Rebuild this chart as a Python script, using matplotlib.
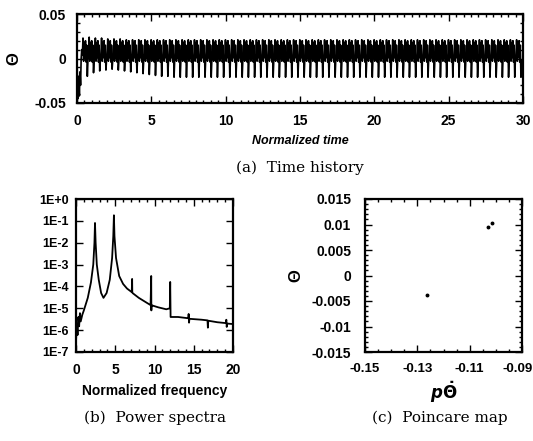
import matplotlib
matplotlib.use('Agg')
import matplotlib.pyplot as plt
from matplotlib.ticker import MultipleLocator, FixedLocator, FuncFormatter, LogLocator, NullFormatter
import numpy as np

# ---- データ ----
# (a) time history: start transient, then a repeated cycle at f ~ 2.4
transient_t = [0.0, 0.04, 0.08, 0.12, 0.16, 0.2, 0.24, 0.28, 0.32]
transient_theta = [0.0, -0.035, -0.045, -0.02, -0.042, -0.015, -0.03, 0.0, 0.01]
cycle_shape = [0.004, 0.021, -0.003, 0.018, 0.001, 0.020, -0.004, 0.015, -0.021, -0.002]
first_dips = [-0.020, -0.016, -0.014, -0.013, -0.012, -0.013, -0.014, -0.015,
              -0.016, -0.017, -0.018, -0.019, -0.020, -0.020]
first_peaks = [0.023, 0.024, 0.023, 0.023, 0.022, 0.022, 0.022, 0.021]
base_freq = 2.4
t_end = 30.0

# (b) power spectra
freq = [0.0, 0.1, 0.2, 0.3, 0.4, 0.5, 0.6, 0.8, 1.0, 1.5, 1.9, 2.2, 2.35, 2.42, 2.5,
        2.65, 2.9, 3.2, 3.5, 3.9, 4.3, 4.6, 4.75, 4.83, 4.9, 5.1, 5.5, 6.0, 6.5, 7.1,
        7.15, 7.17, 7.2, 8.0, 9.0, 9.5, 9.58, 9.6, 9.62, 9.7, 10.5, 11.5, 11.95, 12.0,
        12.05, 13.0, 14.3, 14.35, 14.4, 14.45, 16.0, 16.75, 16.8, 16.85, 18.0, 19.1,
        19.15, 19.2, 19.25, 20.0]
power = [3e-7, 2e-6, 6e-7, 4e-6, 1.5e-6, 6e-6, 2.5e-6, 5e-6, 8e-6, 3e-5, 1.5e-4,
         1e-3, 1e-2, 8e-2, 1e-2, 1e-3, 2e-4, 5e-5, 3e-5, 5e-5, 2e-4, 2e-3, 2e-2,
         1.8e-1, 2e-2, 2e-3, 3e-4, 1.3e-4, 8e-5, 5.5e-5, 2.2e-4, 5.5e-5, 5e-5, 3e-5,
         1.8e-5, 1.4e-5, 3e-4, 8e-6, 1.4e-5, 1.35e-5, 1.1e-5, 9e-6, 1e-5, 1.6e-4,
         4e-6, 4e-6, 3.5e-6, 5.5e-6, 2.2e-6, 3.3e-6, 3e-6, 2.8e-6, 1.3e-6, 2.7e-6,
         2.3e-6, 2.1e-6, 3e-6, 1.4e-6, 2e-6, 1.9e-6]

# (c) poincare map
poin_x = [-0.1015, -0.1030, -0.1262]
poin_y = [0.0102, 0.0095, -0.0038]
poin_xticks = [-0.15, -0.13, -0.11, -0.09]

plt.rcParams['font.family'] = ['Liberation Sans', 'DejaVu Sans']
plt.rcParams['font.weight'] = 'bold'
plt.rcParams['mathtext.fontset'] = 'custom'
plt.rcParams['mathtext.it'] = 'DejaVu Sans:italic:bold'
plt.rcParams['mathtext.rm'] = 'DejaVu Sans:bold'

tick_fs = 10


def style_axes(ax):
    """枠と目盛の設定"""
    for sp in ax.spines.values():
        sp.set_linewidth(1.6)
    ax.tick_params(which='both', direction='in', top=True, right=True,
                   labelsize=tick_fs, width=1.0)
    ax.tick_params(which='major', length=5)
    ax.tick_params(axis='x', which='major', pad=8)
    ax.tick_params(axis='y', which='major', pad=8)
    ax.tick_params(which='minor', length=2.5)


fig = plt.figure(figsize=(5.33, 4.41), dpi=100)
W, H = 533.0, 441.0


def px_axes(x0, y0, x1, y1):
    return fig.add_axes([x0 / W, 1 - y1 / H, (x1 - x0) / W, (y1 - y0) / H])


# ---- (a) Time history ----
ax1 = px_axes(77, 14, 523, 103)
n_cycles = int((t_end - transient_t[-1]) * base_freq)
dt = 1.0 / base_freq / len(cycle_shape)
t_vals = list(transient_t)
y_vals = list(transient_theta)
for k in range(n_cycles):
    shape = list(cycle_shape)
    if k < len(first_dips):
        shape[8] = first_dips[k]
    if k < len(first_peaks):
        shape[1] = first_peaks[k]
    for j, v in enumerate(shape):
        t_vals.append(transient_t[-1] + (k * len(cycle_shape) + j + 1) * dt)
        y_vals.append(v)
ax1.plot(t_vals, y_vals, color='black', linewidth=1.2)
ax1.set_xlim(0, 30)
ax1.set_ylim(-0.05, 0.05)
ax1.xaxis.set_major_locator(MultipleLocator(5))
ax1.xaxis.set_minor_locator(MultipleLocator(0.5))
ax1.yaxis.set_major_locator(FixedLocator([-0.05, 0, 0.05]))
ax1.yaxis.set_minor_locator(MultipleLocator(0.01))
ax1.yaxis.set_major_formatter(FuncFormatter(lambda v, p: '0' if abs(v) < 1e-9 else f'{v:.2f}'))
style_axes(ax1)
ax1.set_xlabel('Normalized time', fontsize=9, fontstyle='italic', fontweight='bold', labelpad=5)
ax1.set_ylabel('Θ', fontsize=12, fontweight='bold', rotation=90, labelpad=9)

# ---- (b) Power spectra ----
ax2 = px_axes(76, 199, 233, 352)
ax2.semilogy(freq, power, color='black', linewidth=1.3)
ax2.set_xlim(0, 20)
ax2.set_ylim(1e-7, 1)
ax2.xaxis.set_major_locator(MultipleLocator(5))
ax2.xaxis.set_minor_locator(MultipleLocator(1))
ax2.yaxis.set_major_locator(FixedLocator([10.0 ** e for e in range(-7, 1)]))
ax2.yaxis.set_minor_locator(LogLocator(base=10, subs=np.arange(2, 10)))
ax2.yaxis.set_minor_formatter(NullFormatter())
ax2.yaxis.set_major_formatter(FuncFormatter(
    lambda v, p: '1E+0' if v >= 0.99 else f'1E{int(round(np.log10(v)))}'))
style_axes(ax2)
ax2.tick_params(axis='y', which='major', labelsize=9, pad=5)
ax2.set_xlabel('Normalized frequency', fontsize=10, fontweight='bold', labelpad=5)

# ---- (c) Poincare map ----
ax3 = px_axes(365, 199, 522, 352)
ax3.plot(poin_x, poin_y, 'o', color='black', markersize=1.8)
ax3.set_xlim(-0.15, -0.09)
ax3.set_ylim(-0.015, 0.015)
ax3.xaxis.set_major_locator(FixedLocator(poin_xticks))
ax3.xaxis.set_minor_locator(MultipleLocator(0.005))
ax3.yaxis.set_major_locator(MultipleLocator(0.005))
ax3.yaxis.set_minor_locator(MultipleLocator(0.001))
# 右端のラベルは図の端に収まるように別に描く
ax3.xaxis.set_major_formatter(FuncFormatter(
    lambda v, p: '' if v > poin_xticks[-1] - 1e-6 else f'{v:.2f}'))
ax3.yaxis.set_major_formatter(FuncFormatter(
    lambda v, p: '0' if abs(v) < 1e-9 else (f'{v:.3f}'.rstrip('0') if abs(v * 1000 % 10) > 1e-6 else f'{v:.2f}')))
style_axes(ax3)
ax3.tick_params(axis='x', which='major', labelsize=9.5)
ax3.tick_params(axis='y', which='major', pad=10)
ax3.annotate(f'{poin_xticks[-1]:.2f}', xy=(poin_xticks[-1], 0), xycoords=('data', 'axes fraction'),
             xytext=(7.5, -8), textcoords='offset points', ha='right', va='top',
             fontsize=9.5, fontweight='bold')
ax3.set_xlabel(r'$p\dot{\Theta}$', fontsize=12, labelpad=3)
ax3.set_ylabel('Θ', fontsize=12, fontweight='bold', rotation=90, labelpad=6)

# ---- captions ----
cap_font = dict(family='DejaVu Serif', fontsize=11, fontweight='normal', ha='center')
fig.text(300 / W, 1 - 168 / H, '(a)  Time history', va='center', **cap_font)
fig.text(155 / W, 1 - 418 / H, '(b)  Power spectra', va='center', **cap_font)
fig.text(440 / W, 1 - 418 / H, '(c)  Poincare map', va='center', **cap_font)

fig.savefig('out.png', dpi=100)
plt.close(fig)
